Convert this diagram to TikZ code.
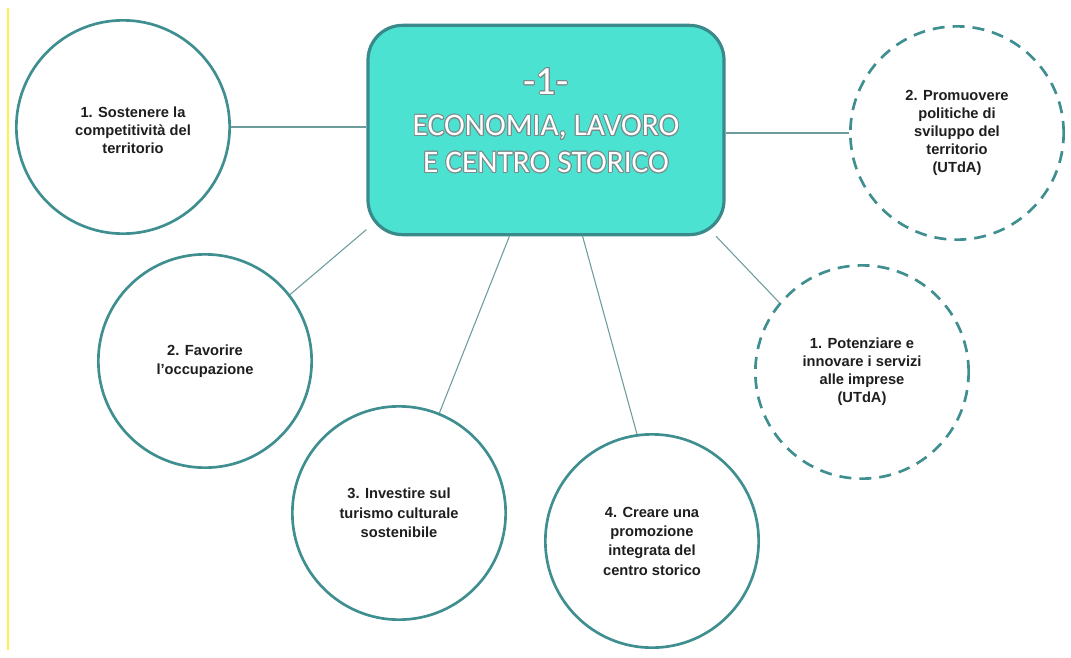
\documentclass[tikz,border=0pt]{standalone}
\usepackage{fontspec}
\setmainfont{Liberation Sans}
\newfontfamily\boxfont{Carlito}
\usepackage{contour}
\contourlength{0.7pt}
\definecolor{boxfill}{HTML}{4CE2D2}
\definecolor{boxline}{HTML}{3A8A8C}
\definecolor{ringline}{HTML}{3F8F90}
\definecolor{linkline}{HTML}{6E9C9C}
\definecolor{txt}{HTML}{1E1E1E}
\definecolor{outl}{HTML}{7A8A8A}
\definecolor{yel}{HTML}{FFF04A}
\begin{document}
\begin{tikzpicture}[x=0.75pt,y=-0.75pt,
  ring/.style={circle,draw=ringline,line width=2pt,fill=white,minimum size=160pt,inner sep=0pt,
     align=center,text=txt,font=\bfseries\fontsize{11}{14.5}\selectfont},
  dring/.style={ring,dash pattern=on 9pt off 6pt,font=\bfseries\fontsize{11}{13.5}\selectfont},
  link/.style={draw=linkline,line width=0.8pt},
  hub/.style={rectangle,rounded corners=26pt,draw=boxline,line width=2.4pt,fill=boxfill,
     minimum width=267pt,minimum height=157pt,inner sep=0pt}]
\useasboundingbox (0,0) rectangle (1071,657);
\fill[white] (0,0) rectangle (1071,657);
\draw[yel,line width=0.8pt] (8,8) -- (8,650);

\node[hub] (box) at (546,130) {};
\node[font=\boxfont\fontsize{30}{30}\selectfont,text=white] (t1) at (546,82) {\contour{outl}{-1-}};
\node[font=\boxfont\fontsize{23.5}{26}\selectfont,text=white] (t2) at (546,128) {\contour{outl}{ECONOMIA, LAVORO}};
\node[font=\boxfont\fontsize{23.5}{26}\selectfont,text=white] (t3) at (546,163) {\contour{outl}{E CENTRO STORICO}};

\node[ring] (c1) at (123,127) {};
\node[align=center,text=txt,font=\bfseries\fontsize{11}{13.5}\selectfont] (c1t) at (133,130) {1. Sostenere la\\competitività del\\territorio};
\node[ring] (c2) at (205,361) {2. Favorire\\l'occupazione};
\node[ring] (c3) at (399,513) {3. Investire sul\\turismo culturale\\sostenibile};
\node[ring] (c4) at (652,541) {4. Creare una\\promozione\\integrata del\\centro storico};
\node[dring] (d1) at (862,372) {1. Potenziare e\\innovare i servizi\\alle imprese\\(UTdA)};
\node[dring] (d2) at (957,133) {2. Promuovere\\politiche di\\sviluppo del\\territorio\\(UTdA)};

\draw[link] (c1.east) -- (c1.east -| box.west);
\draw[link] (c2.38) -- (box.209);
\draw[link] (c3.68) -- (box.251);
\draw[link] (c4.98) -- (box.289);
\draw[link] (d1.140) -- (box.328);
\draw[link] (d2.west) -- (d2.west -| box.east);
\end{tikzpicture}
\end{document}
